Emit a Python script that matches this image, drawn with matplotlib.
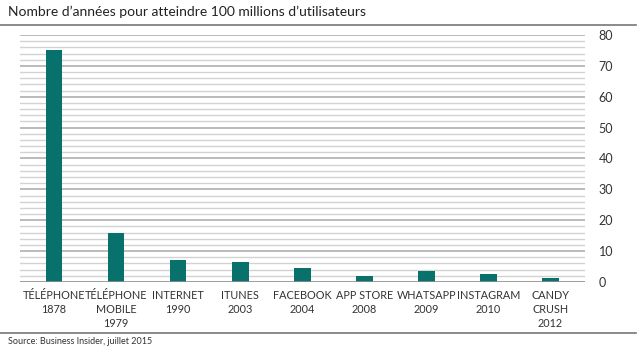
import numpy as np
import matplotlib.pyplot as plt
from matplotlib.lines import Line2D

# =========================================================
# DONNÉES
# =========================================================
categories = ["TÉLÉPHONE\n1878", "TÉLÉPHONE\nMOBILE\n1979", "INTERNET\n1990",
              "ITUNES\n2003", "FACEBOOK\n2004", "APP STORE\n2008",
              "WHATSAPP\n2009", "INSTAGRAM\n2010", "CANDY\nCRUSH\n2012"]
years = [75, 16, 7, 6.5, 4.5, 2, 3.5, 2.5, 1.25]

title = "Nombre d\u2019années pour atteindre 100 millions d\u2019utilisateurs"
source = "Source: Business Insider, juillet 2015"

teal = "#08716c"
plt.rcParams['font.family'] = ['Lato', 'DejaVu Sans']

# =========================================================
# FIGURE
# =========================================================
fig = plt.figure(figsize=(6.39, 3.51), dpi=100)
ax = fig.add_axes([0.031, 0.1966, 0.884, 0.7037])

x = np.arange(len(categories))
ax.bar(x, years, width=0.27, color=teal, zorder=3)

ax.set_xlim(-0.55, len(categories) - 0.45)
ax.set_ylim(0, 80)

# grille : majeure tous les 10, mineure tous les 2
for v in np.arange(2, 81, 2):
    major = v % 10 == 0
    ax.axhline(v, color="#a8a8a8" if major else "#d2d2d2",
               lw=1.1 if major else 1.0, zorder=1)
ax.axhline(0, color="#8c8c8c", lw=1.2, zorder=4)

ax.yaxis.tick_right()
ax.set_yticks(np.arange(0, 81, 10))
ax.tick_params(axis="y", length=0, pad=10, labelsize=9, labelcolor="#333333")
ax.set_xticks(x)
ax.set_xticklabels(categories, fontsize=7.8, color="#333333", linespacing=1.3)
ax.tick_params(axis="x", length=0, pad=6)
for s in ax.spines.values():
    s.set_visible(False)

# titre et source
fig.text(0.012, 0.965, title, fontsize=10, color="#222222", va="center")
fig.add_artist(Line2D([0.0, 0.995], [0.93, 0.93], color="#777777", lw=1.2))
fig.add_artist(Line2D([0.0, 0.995], [0.052, 0.052], color="#777777", lw=1.2))
fig.text(0.012, 0.026, source, fontsize=6.5, color="#333333", va="center")

fig.savefig("out.png", dpi=100)
